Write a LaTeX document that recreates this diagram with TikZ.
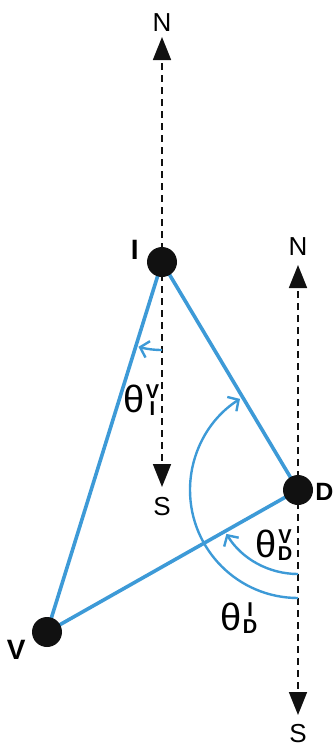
\documentclass[tikz,border=0pt]{standalone}
\usepackage{amsmath}
\usepackage{fontspec}
\setmainfont{Liberation Sans}
\usetikzlibrary{arrows.meta,positioning,calc,backgrounds}
\definecolor{cpblue}{HTML}{3D9AD7}
\definecolor{cpink} {HTML}{111111}
\newcommand{\anglab}[2]{%
  θ\kern1.5pt\raisebox{-3pt}{\fontsize{20}{20}\selectfont\bfseries\shortstack{#1\\#2}}}
\tikzset{
  station/.style={circle, fill=cpink, minimum size=30pt, inner sep=0pt},
  meridian/.style={cpink, line width=1.8pt, dash pattern=on 7pt off 5pt,
                   -{Triangle[length=23pt, width=18pt]}},
  bearing/.style={cpblue, line width=3.6pt, line cap=round},
  anglearc/.style={cpblue, line width=2.4pt,
                   -{Straight Barb[length=8pt, width=17pt, line width=2.4pt]}},
  compass/.style={font=\fontsize{26}{26}\selectfont, inner sep=0pt},
  sitename/.style={font=\fontsize{28}{28}\selectfont\bfseries, inner sep=0pt},
  anglabel/.style={font=\fontsize{38}{38}\selectfont, inner sep=0pt, anchor=base west}
}

\begin{document}
\begin{tikzpicture}[x=1pt, y=-1pt]
  \useasboundingbox (0,0) rectangle (335,747);
  % stations
  \node[station] (I) at (162,262) {};
  \node[station] (D) at (298,490) {};
  \node[station] (V) at (47,632) {};
  \node[sitename, left=8pt of I, yshift=12pt] (Ilab) {I};
  \node[sitename, right=2pt of D, yshift=-2pt, font=\fontsize{25}{25}\selectfont\bfseries] (Dlab) {D};
  \node[sitename, left=6pt of V, yshift=-18pt] (Vlab) {V};
  % north-south lines
  \coordinate (nI) at (162,37);
  \coordinate (sI) at (162,487);
  \coordinate (nD) at (298,265);
  \coordinate (sD) at (298,715);
  \node[compass, above=5pt of nI] (NI) {N};
  \node[compass, below=10pt of sI] (SI) {S};
  \node[compass, above=9pt of nD] (ND) {N};
  \node[compass, below=9pt of sD] (SD) {S};
  \begin{scope}[on background layer]
    \draw[meridian] (I.center) -- (nI);
    \draw[meridian] (I.center) -- (sI);
    \draw[meridian] (D.center) -- (nD);
    \draw[meridian] (D.center) -- (sD);
    \draw[bearing] (I.center) -- (V.center);
    \draw[bearing] (I.center) -- (D.center);
    \draw[bearing] (D.center) -- (V.center);
  \end{scope}
  % angles
  \draw[anglearc] ($(I)+(0,88)$) arc[start angle=90, end angle=105.5, radius=88];
  \draw[anglearc] ($(D)+(0,84)$) arc[start angle=90, end angle=148.5, radius=84];
  \draw[anglearc] ($(D)+(0,108)$) arc[start angle=90, end angle=237.5, radius=108];
  \node[anglabel] (thIV) at (123,412) {\anglab{V}{I}};
  \node[anglabel] (thDV) at (255,557) {\anglab{V}{D}};
  \node[anglabel] (thDI) at (220,630) {\anglab{I}{D}};
\end{tikzpicture}
\end{document}
